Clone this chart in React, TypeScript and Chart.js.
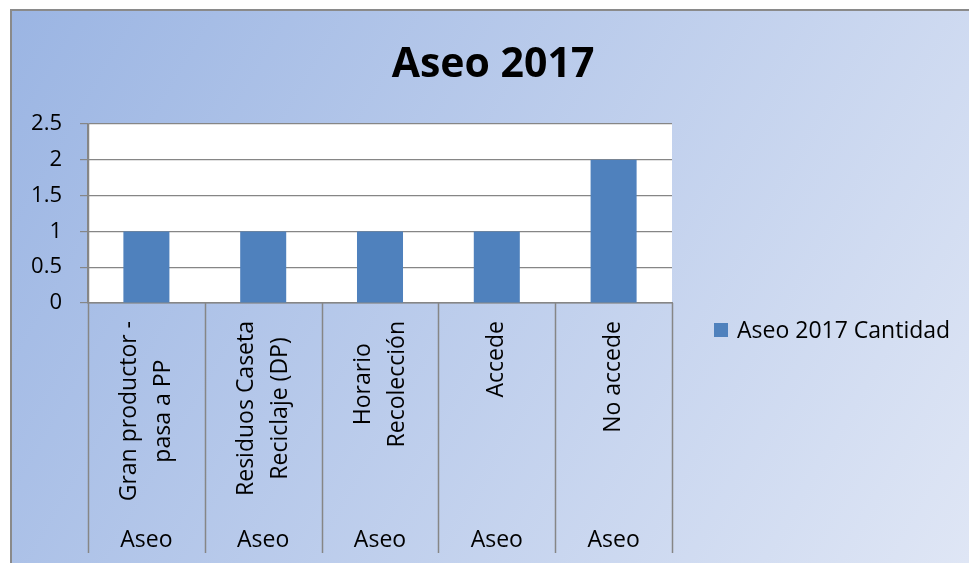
import React, { useEffect, useRef } from "react";
import { Chart, registerables } from "chart.js";

Chart.register(...registerables);

const TITLE = "Aseo 2017";
const SERIES_NAME = "Aseo 2017 Cantidad";
const CATEGORY_LINES: string[][] = [
  ["Gran productor -", "pasa a PP"],
  ["Residuos Caseta", "Reciclaje (DP)"],
  ["Horario", "Recolección"],
  ["Accede"],
  ["No accede"],
];
const GROUPS = ["Aseo", "Aseo", "Aseo", "Aseo", "Aseo"];
const VALUES = [1, 1, 1, 1, 2];
const Y_MIN = 0;
const Y_MAX = 2.5;
const Y_STEP = 0.5;

const FONT = "'Open Sans', sans-serif";
const GRID = "#868686";
const BAR = "#4F81BD";

const decorPlugin = {
  id: "decor",
  beforeDraw(chart: any) {
    const ctx = chart.ctx as CanvasRenderingContext2D;
    const W = chart.width;
    const H = chart.height;
    ctx.save();
    ctx.fillStyle = "#ffffff";
    ctx.fillRect(0, 0, W, H);
    const g = ctx.createLinearGradient(12, 11, W, H);
    g.addColorStop(0, "#9BB5E3");
    g.addColorStop(1, "#DFE6F5");
    ctx.fillStyle = g;
    ctx.fillRect(12, 11, W - 12, H - 11);
    ctx.strokeStyle = "#8a8a8a";
    ctx.lineWidth = 2;
    ctx.beginPath();
    ctx.moveTo(11, H);
    ctx.lineTo(11, 10);
    ctx.lineTo(W, 10);
    ctx.stroke();
    const a = chart.chartArea;
    ctx.fillStyle = "#ffffff";
    ctx.fillRect(a.left, a.top, a.right - a.left, a.bottom - a.top);
    ctx.restore();
  },
  afterDraw(chart: any) {
    const ctx = chart.ctx as CanvasRenderingContext2D;
    const a = chart.chartArea;
    const xs = chart.scales.x;
    const n = CATEGORY_LINES.length;
    const cw = (a.right - a.left) / n;
    ctx.save();
    // separators
    ctx.strokeStyle = GRID;
    ctx.lineWidth = 1.5;
    for (let i = 0; i <= n; i++) {
      const c = i < n ? xs.getPixelForValue(i) - cw / 2 : xs.getPixelForValue(n - 1) + cw / 2;
      const x = Math.round(c) + 0.5;
      ctx.beginPath();
      ctx.moveTo(x, i === 0 ? a.top : a.bottom);
      ctx.lineTo(x, 553);
      ctx.stroke();
    }
    // rotated category labels
    ctx.fillStyle = "#000";
    ctx.font = `23px ${FONT}`;
    const lineGap = 34;
    const topY = 321;
    CATEGORY_LINES.forEach((lines, i) => {
      const cx = xs.getPixelForValue(i);
      const L = Math.max(...lines.map((l) => ctx.measureText(l).width));
      ctx.save();
      ctx.translate(cx, topY + L / 2);
      ctx.rotate(-Math.PI / 2);
      ctx.textAlign = "center";
      ctx.textBaseline = "middle";
      lines.forEach((l, j) => {
        ctx.fillText(l, 0, (j - (lines.length - 1) / 2) * lineGap);
      });
      ctx.restore();
    });
    // group labels
    ctx.textAlign = "center";
    ctx.textBaseline = "alphabetic";
    GROUPS.forEach((gName, i) => {
      ctx.fillText(gName, xs.getPixelForValue(i), 546.5);
    });
    // title
    ctx.font = `bold 41px ${FONT}`;
    ctx.fillText(TITLE, 493, 77);
    // legend
    ctx.fillStyle = BAR;
    ctx.fillRect(714, 323, 14, 14);
    ctx.fillStyle = "#000";
    ctx.font = `23px ${FONT}`;
    ctx.textAlign = "left";
    ctx.fillText(SERIES_NAME, 737, 337.5);
    ctx.restore();
  },
};

export default function App() {
  const ref = useRef<HTMLCanvasElement>(null);
  useEffect(() => {
    if (!ref.current) return;
    const chart = new Chart(ref.current, {
      type: "bar",
      data: {
        labels: CATEGORY_LINES.map((l) => l.join(" ")),
        datasets: [
          {
            label: SERIES_NAME,
            data: VALUES,
            backgroundColor: BAR,
            borderWidth: 0,
            barPercentage: 0.394,
            categoryPercentage: 1,
          },
        ],
      },
      options: {
        responsive: false,
        animation: false,
        devicePixelRatio: 1,
        layout: { padding: { left: 12, top: 124, right: 297, bottom: 0 } },
        plugins: {
          legend: { display: false },
          title: { display: false },
          tooltip: { enabled: false },
        },
        scales: {
          x: {
            ticks: { display: false },
            grid: { display: false },
            border: { display: true, color: GRID, width: 1.5 },
            afterFit: (s: any) => {
              s.height = 260;
            },
          },
          y: {
            min: Y_MIN,
            max: Y_MAX,
            ticks: {
              stepSize: Y_STEP,
              color: "#000",
              font: { family: FONT, size: 22 },
              padding: 18,
              callback: (v: any) => String(Number(v)),
            },
            grid: { color: GRID, lineWidth: 1.2, tickLength: 8 },
            border: { display: true, color: GRID, width: 1.5 },
            afterFit: (s: any) => {
              s.width = 76;
            },
          },
        },
      },
      plugins: [decorPlugin],
    });
    return () => chart.destroy();
  }, []);
  return (
    <div style={{ position: "fixed", left: 0, top: 0, width: 969, height: 563 }}>
      <canvas ref={ref} width={969} height={563} />
    </div>
  );
}
